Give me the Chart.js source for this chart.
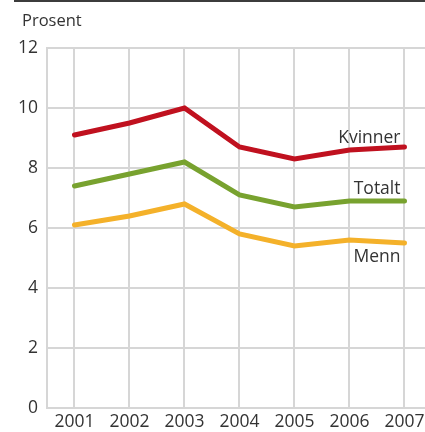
<!DOCTYPE html>
<html><head><meta charset="utf-8">
<script src="https://cdn.jsdelivr.net/npm/chart.js@4"></script>
<style>
html,body{margin:0;padding:0;background:#fff;overflow:hidden;}
#wrap{position:relative;width:425px;height:432px;overflow:hidden;}
#topline{position:absolute;left:14px;top:0;width:411px;height:2px;background:#3c3c3c;z-index:2;}
#unit{position:absolute;left:22px;top:8px;font:16.5px "Open Sans";color:#333;z-index:2;}
canvas{position:absolute;left:0;top:0;}
</style></head>
<body>
<div id="wrap">
<canvas id="c" width="432" height="432"></canvas>
<div id="topline"></div>
<div id="unit">Prosent</div>
</div>
<script>
const years = ['2001', '2002', '2003', '2004', '2005', '2006', '2007'];
const kvinner = [9.1, 9.5, 10.0, 8.7, 8.3, 8.6, 8.7];
const totalt  = [7.4, 7.8, 8.2, 7.1, 6.7, 6.9, 6.9];
const menn    = [6.1, 6.4, 6.8, 5.8, 5.4, 5.6, 5.5];
const seriesNames = ['Kvinner', 'Totalt', 'Menn'];
const yTicks = [0, 2, 4, 6, 8, 10, 12];

const FONT = '"Open Sans"';
const GRID = '#d6d6d6';

const vGridPlugin = {
  id: 'vGrid',
  beforeDatasetsDraw(chart) {
    const ctx = chart.ctx, xs = chart.scales.x, a = chart.chartArea;
    ctx.save();
    ctx.fillStyle = GRID;
    xs.ticks.forEach((t, i) => {
      const px = Math.floor(xs.getPixelForTick(i));
      ctx.fillRect(px - 1, a.top, 2, a.bottom - a.top);
    });
    ctx.restore();
  }
};

const labelPlugin = {
  id: 'endLabels',
  afterDatasetsDraw(chart) {
    const ctx = chart.ctx;
    const xs = chart.scales.x, ys = chart.scales.y;
    const offs = [-4, -7, 19];
    ctx.save();
    ctx.font = '17.5px ' + FONT;
    ctx.fillStyle = '#333';
    ctx.textAlign = 'right';
    ctx.textBaseline = 'alphabetic';
    chart.data.datasets.forEach((ds, i) => {
      const n = ds.data.length - 1;
      const px = xs.getPixelForValue(n) - 4;
      const py = ys.getPixelForValue(ds.data[n]) + offs[i];
      ctx.fillText(ds.label, px, py);
    });
    ctx.restore();
  }
};

new Chart(document.getElementById('c'), {
  type: 'line',
  data: {
    labels: years,
    datasets: [
      {label: seriesNames[0], data: kvinner, borderColor: '#c0111f'},
      {label: seriesNames[1], data: totalt, borderColor: '#78a22f'},
      {label: seriesNames[2], data: menn, borderColor: '#f4b12a'}
    ].map(d => Object.assign(d, {borderWidth: 5, pointRadius: 0, tension: 0, fill: false, borderCapStyle: 'round', borderJoinStyle: 'miter'}))
  },
  options: {
    responsive: false,
    animation: false,
    layout: {padding: {top: 48, right: 0, left: 0, bottom: 0}},
    plugins: {legend: {display: false}, tooltip: {enabled: false}},
    scales: {
      x: {
        type: 'category',
        offset: true,
        afterFit: s => { s.height = 24; },
        ticks: {
          font: {family: FONT, size: 17.5},
          color: '#333',
          padding: 4,
          maxRotation: 0,
          autoSkip: false
        },
        grid: {display: false, drawTicks: false, offset: false},
        border: {color: GRID, width: 2}
      },
      y: {
        min: 0, max: 12,
        afterBuildTicks: s => { s.ticks = yTicks.map(v => ({value: v})); },
        afterFit: s => { s.width = 47; },
        ticks: {
          font: {family: FONT, size: 17.5},
          color: '#333',
          padding: 9
        },
        grid: {color: GRID, lineWidth: 2, drawTicks: false},
        border: {color: GRID, width: 2}
      }
    }
  },
  plugins: [vGridPlugin, labelPlugin]
});
</script>
</body></html>
